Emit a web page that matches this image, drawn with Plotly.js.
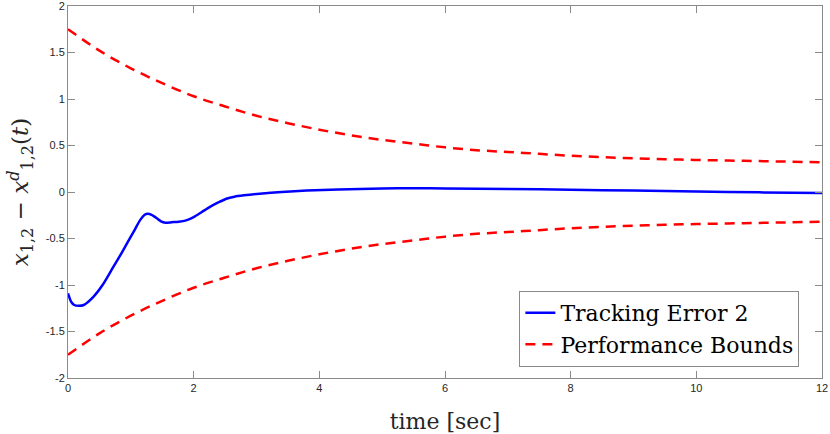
<!DOCTYPE html>
<html>
<head>
<meta charset="utf-8">
<script src="https://cdn.plot.ly/plotly-3.0.1.min.js"></script>
<style>
  html, body { margin: 0; padding: 0; background: #fff; }
  #chart { width: 830px; height: 434px; }
</style>
</head>
<body>
<div id="chart"></div>
<script>
// values
var tTrack = [0, 0.05, 0.1, 0.17, 0.25, 0.4, 0.55, 0.7, 0.85, 0.95, 1.05, 1.15, 1.22, 1.27,
              1.33, 1.41, 1.48, 1.55, 1.65, 1.76, 1.88, 2.0, 2.13, 2.26, 2.4, 2.52, 2.65,
              2.8, 3.05, 3.4, 3.8, 4.3, 5, 5.5, 6, 7, 8, 9, 10, 11, 12];
var errTrack = [-1.09, -1.18, -1.215, -1.223, -1.215, -1.13, -1.0, -0.83, -0.66, -0.54, -0.42,
                -0.3, -0.245, -0.233, -0.245, -0.28, -0.315, -0.33, -0.325, -0.32, -0.305,
                -0.27, -0.215, -0.16, -0.11, -0.072, -0.05, -0.036, -0.018, 0.0, 0.015,
                0.028, 0.038, 0.04, 0.038, 0.033, 0.025, 0.015, 0.005, -0.004, -0.012];

var tBound = [0, 0.5, 1, 1.5, 2, 2.5, 3, 3.5, 4, 4.5, 5, 5.5, 6, 6.5, 7, 7.5, 8, 8.5,
              9, 9.5, 10, 10.5, 11, 11.5, 12];
var upperBound = [1.75, 1.52, 1.33, 1.17, 1.03, 0.92, 0.82, 0.74, 0.67, 0.61, 0.56, 0.52,
                  0.48, 0.45, 0.43, 0.41, 0.39, 0.375, 0.362, 0.352, 0.345, 0.338, 0.332,
                  0.326, 0.32];
var lowerBound = [-1.75, -1.52, -1.33, -1.17, -1.03, -0.92, -0.82, -0.74, -0.67, -0.61, -0.56,
                  -0.52, -0.48, -0.45, -0.43, -0.41, -0.39, -0.375, -0.362, -0.352, -0.345,
                  -0.338, -0.332, -0.326, -0.32];

var xTicks = [0, 2, 4, 6, 8, 10, 12];
var yTicks = [-2, -1.5, -1, -0.5, 0, 0.5, 1, 1.5, 2];

var serif = "DejaVu Serif, Liberation Serif, serif";
var redDash = {color: "#ff0000", width: 2.5, dash: "10px,7px"};

var traces = [
    {
        x: tTrack, y: errTrack, type: "scatter", mode: "lines",
        name: "Tracking Error 2",
        line: {color: "#0000ff", width: 2.5, shape: "spline", smoothing: 0.6}
    },
    {
        x: tBound, y: upperBound, type: "scatter", mode: "lines",
        name: "Performance Bounds",
        line: Object.assign({shape: "spline"}, redDash)
    },
    {
        x: tBound, y: lowerBound, type: "scatter", mode: "lines",
        name: "lower", showlegend: false,
        line: Object.assign({shape: "spline"}, redDash)
    }
];

var axisCommon = {
    showgrid: false, zeroline: false,
    showline: true, linecolor: "#8a8a8a", linewidth: 1,
    mirror: "ticks", ticks: "inside", ticklen: 7, tickcolor: "#8a8a8a",
    ticklabeloverflow: "allow",
    tickfont: {family: "Liberation Sans, Arial, sans-serif", size: 11, color: "#262626"}
};

var layout = {
    width: 830, height: 434,
    margin: {l: 68, r: 8, t: 6, b: 56},
    paper_bgcolor: "#fff", plot_bgcolor: "#fff",
    showlegend: true,
    xaxis: Object.assign({}, axisCommon, {
        range: [0, 12], tickvals: xTicks, ticktext: xTicks.map(String),
        title: {text: "time [sec]", font: {family: serif, size: 22, color: "#262626"}, standoff: 20}
    }),
    yaxis: Object.assign({}, axisCommon, {
        range: [-2, 2], tickvals: yTicks, ticktext: yTicks.map(String),
        title: {
            text: "<i>x</i><sub>1,2</sub> − <i>x</i><sup><i>d</i></sup><sub>1,2</sub>(<i>t</i>)",
            font: {family: serif, size: 23, color: "#262626"}, standoff: 10
        }
    }),
    legend: {
        x: 0.970, xanchor: "right", y: 0.03, yanchor: "bottom",
        bgcolor: "#fff", bordercolor: "#8a8a8a", borderwidth: 1,
        font: {family: serif, size: 22, color: "#000"},
        tracegroupgap: 0
    }
};

Plotly.newPlot("chart", traces, layout, {displayModeBar: false, staticPlot: true});
</script>
</body>
</html>
